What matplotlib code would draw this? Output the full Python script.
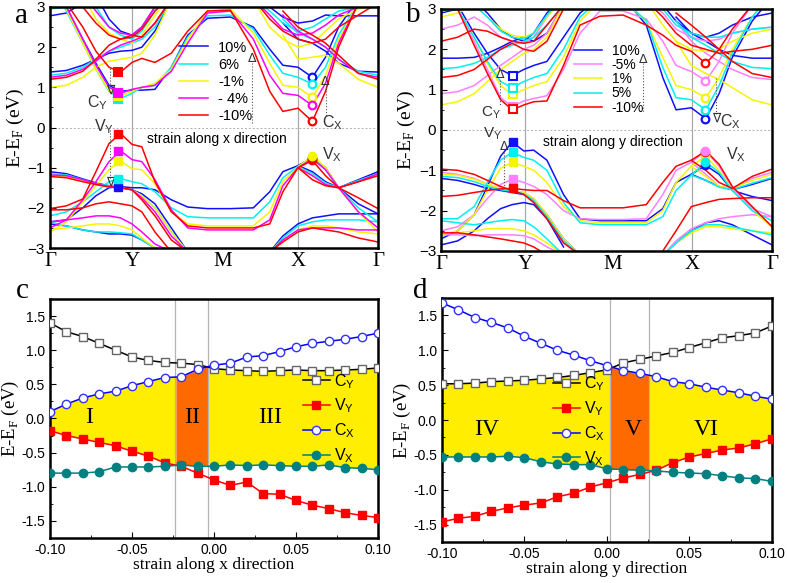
import numpy as np
import matplotlib
matplotlib.use('Agg')
import matplotlib.pyplot as plt
from matplotlib.ticker import MultipleLocator, FormatStrFormatter

SERIF = 'Liberation Serif'
SANS = 'Liberation Sans'
plt.rcParams['font.family'] = SANS
plt.rcParams['mathtext.fontset'] = 'custom'
plt.rcParams['mathtext.rm'] = SANS

# ---------------- band structure data (panels a, b) ----------------
# k positions along the path, normalised 0..1 (Gamma-Y-M-X-Gamma)
K = [0.00, 0.05, 0.10, 0.14, 0.18, 0.215, 0.25, 0.28, 0.32, 0.37, 0.42,
     0.48, 0.55, 0.62, 0.67, 0.71, 0.756, 0.80, 0.84, 0.88, 0.94, 1.00]
kpath_labels = ['Γ', 'Y', 'M', 'X', 'Γ']
kticks_a = [0.0, 0.25, 0.527, 0.756, 1.0]
kticks_b = [0.0, 0.254, 0.52, 0.758, 1.0]

strain_a = ['10%', '6%', '-1%', '- 4%', '-10%']
colors_a = ['#1010ff', '#00f0f0', '#f5f500', '#ff00ff', '#ff0000']
strain_b = ['10%', '-5%', '1%', '5%', '-10%']
colors_b = ['#1010ff', '#ff80ff', '#f5f500', '#00f0f0', '#ff0000']

# panel a, full-path bands (one row per strain)
a_vb1 = [[-2.35, -2.3, -2.0, -1.7, -1.5, -1.47, -1.5, -1.5, -1.55, -1.8, -1.98, -2.02, -2.02, -2.0, -1.6, -1.1, -0.95, -0.75, -1.0, -1.5, -1.9, -2.15],
         [-2.2, -2.1, -1.85, -1.6, -1.35, -1.27, -1.35, -1.4, -1.6, -2.0, -2.22, -2.25, -2.25, -2.25, -1.85, -1.25, -0.97, -0.75, -1.05, -1.5, -2.0, -2.35],
         [-2.6, -2.35, -1.85, -1.45, -1.05, -0.83, -1.03, -1.05, -1.4, -2.1, -2.4, -2.45, -2.45, -2.45, -2.1, -1.35, -0.98, -0.7, -1.0, -1.5, -2.1, -2.6],
         [-2.5, -2.3, -1.8, -1.35, -0.85, -0.58, -0.8, -0.85, -1.3, -2.05, -2.5, -2.55, -2.55, -2.55, -2.3, -1.45, -1.0, -0.78, -1.05, -1.5, -2.1, -2.5],
         [-2.02, -1.95, -1.78, -1.1, -0.4, -0.15, -0.42, -0.48, -1.35, -2.1, -2.45, -2.5, -2.5, -2.5, -2.4, -1.6, -1.0, -0.82, -1.2, -1.5, -1.75, -2.02]]
a_cb1 = [[3.6, 3.0, 2.2, 1.6, 1.05, 0.9, 0.93, 0.93, 0.95, 1.5, 2.3, 2.72, 2.75, 2.5, 1.95, 1.55, 1.5, 1.25, 1.75, 2.5, 3.2, 3.6],
         [3.6, 2.9, 2.1, 1.45, 0.9, 0.72, 0.85, 1.0, 1.05, 1.5, 2.25, 2.78, 2.8, 2.45, 1.8, 1.35, 1.25, 1.08, 1.5, 2.3, 3.1, 3.6],
         [3.6, 2.95, 2.1, 1.45, 0.92, 0.78, 0.9, 1.0, 1.1, 1.45, 2.2, 2.9, 2.95, 2.35, 1.6, 1.05, 1.0, 0.75, 1.3, 2.2, 3.1, 3.6],
         [3.6, 3.0, 2.2, 1.55, 1.0, 0.85, 0.95, 1.0, 1.05, 1.4, 2.1, 2.85, 2.9, 2.2, 1.3, 0.85, 0.8, 0.55, 1.1, 2.1, 3.1, 3.6],
         [3.6, 3.1, 2.5, 1.9, 1.5, 1.38, 1.62, 1.72, 1.62, 1.85, 2.4, 2.9, 2.92, 1.95, 0.9, 0.4, 0.48, 0.15, 0.9, 2.0, 3.1, 3.6]]
# panel a, bands starting at left Gamma
a_vb2 = [[-1.1, -1.15, -1.28, -1.38, -1.45, -1.5, -1.55, -1.65, -1.9, -2.5, -3.1],
         [-1.15, -1.18, -1.3, -1.4, -1.45, -1.5, -1.55, -1.7, -2.0, -2.6, -3.1],
         [-1.2, -1.22, -1.32, -1.42, -1.48, -1.5, -1.55, -1.7, -2.0, -2.6, -3.1],
         [-1.18, -1.2, -1.3, -1.4, -1.47, -1.5, -1.55, -1.75, -2.1, -2.7, -3.1],
         [-1.22, -1.25, -1.35, -1.42, -1.48, -1.5, -1.55, -1.8, -2.2, -2.8, -3.1]]
a_vb4 = [[-2.4, -2.45, -2.55, -2.6, -2.65, -2.65, -2.68, -2.8, -3.0, -3.2],
         [-2.35, -2.45, -2.55, -2.6, -2.6, -2.62, -2.65, -2.8, -3.0, -3.2],
         [-2.55, -2.5, -2.45, -2.4, -2.4, -2.45, -2.55, -2.75, -3.0, -3.2],
         [-2.35, -2.3, -2.25, -2.2, -2.2, -2.25, -2.4, -2.6, -2.9, -3.1],
         [-2.05, -2.05, -2.0, -1.9, -1.85, -1.9, -1.95, -2.1, -2.6, -3.1]]
a_cb2 = [[1.38, 1.42, 1.55, 1.7, 1.85, 1.9, 1.92, 2.0, 2.4, 3.2],
         [1.3, 1.35, 1.5, 1.7, 1.9, 2.0, 2.1, 2.2, 2.5, 3.2],
         [1.0, 1.05, 1.25, 1.5, 1.65, 1.7, 1.75, 1.85, 2.3, 3.2],
         [1.25, 1.3, 1.45, 1.65, 1.9, 2.05, 2.15, 2.25, 2.6, 3.2],
         [1.2, 1.25, 1.4, 1.7, 2.05, 2.2, 2.3, 2.25, 2.6, 3.2]]
a_cb4 = [[2.78, 2.85, 3.1, 3.3, 2.7, 2.4, 2.3, 2.5, 3.0, 3.3],
         [2.95, 3.0, 3.2, 3.0, 2.5, 2.3, 2.2, 2.4, 2.9, 3.3],
         [3.05, 3.2, 3.3, 2.7, 2.35, 2.2, 2.1, 2.3, 2.8, 3.3],
         [3.1, 3.2, 3.3, 2.9, 2.5, 2.35, 2.3, 2.5, 3.0, 3.3],
         [3.2, 3.3, 3.0, 2.6, 2.3, 2.2, 2.25, 2.45, 2.9, 3.3]]
# panel a, bands ending at right Gamma
a_vb3 = [[-0.95, -1.1, -1.35, -1.5, -1.3, -1.1],
         [-0.97, -1.15, -1.38, -1.5, -1.32, -1.15],
         [-0.98, -1.2, -1.42, -1.5, -1.35, -1.18],
         [-1.0, -1.2, -1.42, -1.5, -1.35, -1.15],
         [-1.0, -1.3, -1.45, -1.5, -1.35, -1.2]]
a_vb5 = [[-3.1, -2.7, -2.4, -2.25, -2.2, -2.15, -2.15, -2.15],
         [-3.1, -2.75, -2.45, -2.35, -2.3, -2.3, -2.3, -2.35],
         [-3.1, -2.8, -2.55, -2.45, -2.45, -2.5, -2.6, -2.65],
         [-3.1, -2.8, -2.55, -2.5, -2.5, -2.5, -2.55, -2.55],
         [-3.1, -2.85, -2.6, -2.5, -2.55, -2.6, -2.75, -2.85]]
a_cb3 = [[2.6, 2.2, 2.1, 1.9, 1.6, 1.4, 1.38],
         [2.7, 2.35, 2.2, 2.0, 1.7, 1.4, 1.3],
         [2.3, 1.7, 1.75, 1.8, 1.6, 1.2, 1.0],
         [2.8, 2.4, 2.2, 2.0, 1.7, 1.35, 1.25],
         [2.9, 2.5, 2.3, 2.1, 1.8, 1.35, 1.2]]
a_cb5 = [[3.2, 3.0, 2.75, 2.6, 2.65, 2.8, 2.78, 2.78, 2.78],
         [3.2, 2.9, 2.6, 2.4, 2.5, 2.7, 2.9, 3.0, 3.05],
         [3.2, 2.5, 2.2, 2.0, 2.1, 2.4, 2.7, 2.95, 3.05],
         [3.2, 2.8, 2.45, 2.3, 2.35, 2.55, 2.8, 3.0, 3.1],
         [3.2, 2.7, 2.4, 2.2, 2.1, 2.2, 2.5, 2.8, 3.1]]

# panel b
b_vb1 = [[-2.7, -2.5, -2.1, -1.4, -0.65, -0.3, -0.52, -0.5, -0.75, -1.6, -2.2, -2.25, -2.25, -2.25, -1.95, -1.3, -1.1, -0.88, -1.1, -1.5, -1.65, -1.75],
         [-2.5, -2.4, -2.1, -1.7, -1.35, -1.22, -1.3, -1.4, -1.6, -2.0, -2.2, -2.22, -2.22, -2.2, -1.6, -1.0, -0.8, -0.52, -0.9, -1.45, -1.95, -2.15],
         [-2.6, -2.5, -2.1, -1.5, -0.95, -0.8, -0.9, -1.0, -1.3, -1.9, -2.25, -2.3, -2.3, -2.3, -2.0, -1.3, -0.9, -0.65, -1.0, -1.5, -2.0, -2.4],
         [-2.2, -2.2, -1.9, -1.3, -0.75, -0.55, -0.68, -0.75, -1.0, -1.8, -2.3, -2.35, -2.35, -2.35, -2.15, -1.5, -1.12, -0.8, -1.05, -1.5, -2.0, -2.25],
         [-1.65, -1.62, -1.55, -1.5, -1.46, -1.45, -1.48, -1.5, -1.5, -1.75, -1.93, -1.93, -1.93, -1.85, -1.3, -0.9, -0.75, -0.52, -0.85, -1.4, -1.9, -2.4]]
b_cb1 = [[3.6, 3.1, 2.4, 1.9, 1.5, 1.35, 1.5, 1.6, 1.7, 2.3, 2.9, 3.3, 3.3, 2.6, 1.3, 0.5, 0.55, 0.28, 0.9, 1.8, 2.7, 3.3],
         [3.6, 3.0, 2.2, 1.5, 0.8, 0.58, 0.72, 0.78, 0.85, 1.5, 2.4, 2.95, 2.95, 2.75, 2.2, 1.6, 1.45, 1.22, 1.7, 2.4, 3.1, 3.5],
         [3.6, 3.0, 2.3, 1.65, 1.1, 0.88, 1.0, 1.1, 1.2, 1.8, 2.7, 3.2, 3.2, 2.7, 1.8, 1.1, 1.0, 0.8, 1.3, 2.0, 2.8, 3.4],
         [3.6, 3.0, 2.3, 1.7, 1.2, 1.05, 1.2, 1.3, 1.4, 2.0, 2.8, 3.25, 3.25, 2.7, 1.55, 0.8, 0.75, 0.5, 1.1, 1.9, 2.8, 3.4],
         [3.6, 3.0, 2.1, 1.4, 0.75, 0.5, 0.62, 0.7, 0.72, 1.6, 2.6, 2.82, 2.85, 2.6, 2.35, 2.1, 1.95, 1.65, 2.0, 2.5, 3.1, 3.5]]
b_vb2 = [[-1.2, -1.25, -1.35, -1.45, -1.5, -1.55, -1.6, -1.75, -2.1, -2.7, -3.1],
         [-1.05, -1.1, -1.2, -1.35, -1.45, -1.5, -1.55, -1.7, -2.1, -2.7, -3.1],
         [-1.1, -1.12, -1.22, -1.35, -1.45, -1.5, -1.55, -1.7, -2.1, -2.7, -3.1],
         [-1.15, -1.18, -1.28, -1.4, -1.48, -1.52, -1.58, -1.75, -2.15, -2.75, -3.1],
         [-0.97, -1.0, -1.1, -1.25, -1.4, -1.5, -1.6, -1.8, -2.2, -2.8, -3.1]]
b_vb4 = [[-2.85, -2.75, -2.5, -2.2, -1.95, -1.85, -1.8, -1.85, -2.2, -2.9],
         [-2.6, -2.6, -2.62, -2.6, -2.6, -2.6, -2.62, -2.7, -2.9, -3.1],
         [-2.55, -2.55, -2.5, -2.45, -2.45, -2.45, -2.5, -2.6, -2.8, -3.1],
         [-2.25, -2.3, -2.35, -2.3, -2.25, -2.22, -2.25, -2.4, -2.7, -3.1],
         [-2.55, -2.55, -2.6, -2.65, -2.7, -2.75, -2.8, -2.9, -3.1, -3.2]]
b_cb2 = [[1.78, 1.78, 1.8, 1.9, 2.05, 2.2, 2.3, 2.2, 2.4, 3.1],
         [0.9, 0.95, 1.1, 1.35, 1.6, 1.8, 2.0, 2.1, 2.4, 3.1],
         [0.62, 0.7, 0.9, 1.2, 1.5, 1.7, 1.9, 2.0, 2.3, 3.1],
         [1.52, 1.55, 1.65, 1.8, 2.0, 2.1, 2.2, 2.3, 2.6, 3.1],
         [1.3, 1.35, 1.5, 1.75, 2.0, 2.15, 2.0, 1.95, 2.2, 3.0]]
b_cb4 = [[2.9, 3.0, 3.2, 2.9, 2.5, 2.3, 2.2, 2.4, 2.9, 3.3],
         [2.5, 2.6, 2.8, 2.6, 2.3, 2.2, 2.15, 2.3, 2.8, 3.3],
         [2.8, 2.9, 3.1, 2.8, 2.5, 2.35, 2.3, 2.4, 2.8, 3.3],
         [2.95, 3.0, 3.1, 2.8, 2.45, 2.3, 2.25, 2.4, 2.85, 3.3],
         [2.2, 2.3, 2.5, 2.45, 2.3, 2.2, 2.15, 2.2, 2.6, 3.1]]
b_vb3 = [[-1.1, -1.25, -1.4, -1.48, -1.35, -1.2],
         [-0.8, -1.1, -1.4, -1.45, -1.2, -1.05],
         [-0.9, -1.15, -1.4, -1.45, -1.25, -1.1],
         [-1.12, -1.25, -1.42, -1.48, -1.32, -1.18],
         [-0.75, -1.0, -1.3, -1.45, -1.15, -0.97]]
b_vb5 = [[-3.1, -2.8, -2.5, -2.3, -2.25, -2.35, -2.6, -2.85],
         [-3.1, -2.75, -2.45, -2.3, -2.2, -2.15, -2.1, -2.15],
         [-3.1, -2.8, -2.55, -2.4, -2.4, -2.45, -2.5, -2.55],
         [-3.1, -2.8, -2.5, -2.35, -2.35, -2.4, -2.5, -2.6],
         [-3.0, -2.5, -1.9, -1.8, -1.72, -1.7, -1.68, -1.68]]
b_cb3 = [[2.8, 2.4, 2.2, 2.0, 1.85, 1.78, 1.78],
         [2.7, 2.2, 1.9, 1.7, 1.5, 1.3, 1.25],
         [2.2, 1.6, 1.4, 1.25, 1.05, 0.75, 0.62],
         [2.7, 2.3, 2.1, 1.9, 1.7, 1.55, 1.52],
         [2.9, 2.6, 2.3, 2.0, 1.7, 1.4, 1.3]]
b_cb5 = [[3.2, 3.1, 2.7, 2.4, 2.3, 2.4, 2.6, 2.8, 2.9],
         [3.2, 2.9, 2.5, 2.3, 2.2, 2.25, 2.4, 2.5, 2.55],
         [3.2, 2.6, 2.2, 2.0, 1.95, 2.0, 2.2, 2.4, 2.5],
         [3.2, 3.0, 2.6, 2.4, 2.3, 2.3, 2.4, 2.5, 2.55],
         [3.2, 2.8, 2.4, 2.1, 2.0, 1.9, 1.95, 2.0, 2.1]]

# band-edge markers (one value per strain, same order as colours)
a_k_y, a_k_x = 0.208, 0.798
a_VY = [-1.47, -1.27, -0.83, -0.58, -0.15]
a_CY = [0.75, 0.72, 0.78, 0.85, 1.38]
a_CX = [1.25, 1.08, 0.75, 0.55, 0.15]
a_VX = [-0.75, -0.75, -0.7, -0.78, -0.82]
b_k_y, b_k_x = 0.218, 0.797
b_VY = [-0.3, -1.22, -0.8, -0.55, -1.45]
b_CY = [1.35, 0.58, 0.88, 1.05, 0.52]
b_CX = [0.28, 1.22, 0.8, 0.5, 1.67]
b_VX = [-0.88, -0.52, -0.65, -0.8, -0.55]
a_top_marker = 2   # yellow V_X dot drawn on top
b_top_marker = 1   # pink V_X dot drawn on top

# ---------------- band edges vs strain (panels c, d) ----------------
strain = [-0.10, -0.09, -0.08, -0.07, -0.06, -0.05, -0.04, -0.03, -0.02, -0.01, 0.00,
          0.01, 0.02, 0.03, 0.04, 0.05, 0.06, 0.07, 0.08, 0.09, 0.10]
c_CY = [1.40, 1.27, 1.20, 1.10, 1.00, 0.90, 0.85, 0.82, 0.81, 0.79, 0.73,
        0.71, 0.70, 0.69, 0.70, 0.71, 0.70, 0.70, 0.71, 0.72, 0.74]
c_VY = [-0.18, -0.25, -0.30, -0.35, -0.40, -0.48, -0.55, -0.65, -0.70, -0.80, -0.90,
        -0.98, -0.93, -1.10, -1.11, -1.20, -1.27, -1.32, -1.38, -1.42, -1.45]
c_CX = [0.10, 0.21, 0.30, 0.36, 0.40, 0.48, 0.54, 0.60, 0.61, 0.72, 0.78,
        0.81, 0.90, 0.92, 0.98, 1.05, 1.10, 1.13, 1.16, 1.20, 1.25]
c_VX = [-0.80, -0.80, -0.80, -0.78, -0.71, -0.71, -0.71, -0.70, -0.68, -0.70, -0.70,
        -0.68, -0.69, -0.68, -0.69, -0.70, -0.70, -0.68, -0.72, -0.73, -0.75]
c_bounds = [-0.10, -0.0235, -0.0034, 0.10]
c_regions = ['I', 'II', 'III']
c_region_x = [-0.076, -0.0135, 0.034]

d_CY = [0.52, 0.52, 0.53, 0.55, 0.56, 0.57, 0.59, 0.61, 0.64, 0.68, 0.72,
        0.82, 0.87, 0.92, 0.97, 1.04, 1.11, 1.18, 1.21, 1.25, 1.35]
d_VY = [-1.46, -1.41, -1.38, -1.31, -1.26, -1.22, -1.19, -1.10, -1.05, -0.96, -0.90,
        -0.83, -0.78, -0.72, -0.61, -0.53, -0.48, -0.43, -0.40, -0.34, -0.27]
d_CX = [1.68, 1.58, 1.47, 1.40, 1.32, 1.20, 1.10, 1.00, 0.93, 0.85, 0.78,
        0.71, 0.67, 0.62, 0.55, 0.52, 0.47, 0.43, 0.39, 0.34, 0.30]
d_VX = [-0.53, -0.53, -0.53, -0.53, -0.52, -0.54, -0.60, -0.63, -0.64, -0.64, -0.70,
        -0.71, -0.72, -0.73, -0.75, -0.76, -0.77, -0.80, -0.83, -0.84, -0.88]
d_bounds = [-0.10, 0.002, 0.0253, 0.10]
d_regions = ['IV', 'V', 'VI']
d_region_x = [-0.073, 0.016, 0.060]

# ---------------- figure ----------------
fig = plt.figure(figsize=(7.87, 5.83), dpi=100)
ax_a = fig.add_axes([0.0635, 0.5746, 0.4168, 0.4134])
ax_b = fig.add_axes([0.5604, 0.5695, 0.4206, 0.4151])
ax_c = fig.add_axes([0.0635, 0.0772, 0.4168, 0.4100])
ax_d = fig.add_axes([0.5616, 0.0703, 0.4193, 0.4185])

SYM = ['DejaVu Sans']


def style_band_axes(ax, kticks):
    ax.set_xlim(0, 1)
    ax.set_ylim(-3, 3)
    ax.set_xticks(kticks)
    ax.set_xticklabels(kpath_labels, fontfamily=SERIF, fontsize=15)
    ax.tick_params(axis='x', length=0, pad=3)
    ax.yaxis.set_major_locator(MultipleLocator(1))
    ax.yaxis.set_minor_locator(MultipleLocator(0.5))
    ax.tick_params(axis='y', which='both', direction='in', labelsize=11, length=4)
    ax.tick_params(axis='y', which='minor', length=2.5)
    for s in ax.spines.values():
        s.set_linewidth(1.8)
    for kk in kticks[1:4:2]:
        ax.axvline(kk, color='#a8a8a8', lw=0.9, zorder=0)
    ax.axhline(0, color='#b0b0b0', lw=0.7, ls=(0, (2, 2)), zorder=0)
    ax.set_ylabel('E-E$_\\mathregular{F}$ (eV)', fontfamily=SERIF, fontsize=14, labelpad=1)


def draw_bands(ax, colors, labels, full, left, right):
    for i, c in enumerate(colors):
        for band in full:
            ax.plot(K, band[i], color=c, lw=1.1,
                    label=labels[i] if band is full[0] else None)
        for band in left:
            ax.plot(K[:len(band[i])], band[i], color=c, lw=1.1)
        for band in right:
            ax.plot(K[-len(band[i]):], band[i], color=c, lw=1.1)


def draw_edges(ax, colors, ky, kx, vy, cy, cx, vx, cy_open, top):
    for i, c in enumerate(colors):
        z = 6 if i == top else 5
        ax.plot(ky, vy[i], 's', color=c, ms=5.5, zorder=5)
        ax.plot(ky, cy[i], 's', color=c, ms=5.5, zorder=5,
                mfc='white' if cy_open else c, mew=1.5)
        ax.plot(kx, cx[i], 'o', color=c, ms=5.5, mfc='white', mew=1.6, zorder=5)
        ax.plot(kx, vx[i], 'o', color=c, ms=6, zorder=z)


def annotate(ax, txt, k, e, size=11.5, family=None):
    ax.text(k, e, txt, ha='center', va='center', fontsize=size, color='#333333',
            family=family)


def dotted(ax, k, e0, e1):
    ax.plot([k, k], [e0, e1], ':', color='#555555', lw=0.8)


# panel a
style_band_axes(ax_a, kticks_a)
draw_bands(ax_a, colors_a, strain_a, [a_vb1, a_cb1],
           [a_vb2, a_vb4, a_cb2, a_cb4], [a_vb3, a_vb5, a_cb3, a_cb5])
draw_edges(ax_a, colors_a, a_k_y, a_k_x, a_VY, a_CY, a_CX, a_VX, False, a_top_marker)
ax_a.legend(loc='upper left', bbox_to_anchor=(0.375, 0.885), frameon=False,
            handlelength=2.0, fontsize=10.5, labelspacing=0.22,
            handletextpad=0.7, borderaxespad=0)
ax_a.text(0.51, -0.28, 'strain along x direction', ha='center', va='center', fontsize=10)
annotate(ax_a, 'C$_\\mathregular{Y}$', 0.145, 0.62)
annotate(ax_a, 'V$_\\mathregular{Y}$', 0.165, 0.02)
annotate(ax_a, 'C$_\\mathregular{X}$', 0.86, 0.12)
annotate(ax_a, 'V$_\\mathregular{X}$', 0.86, -0.68)
annotate(ax_a, '∇', 0.183, 0.92, 9, SYM)
annotate(ax_a, '∇', 0.183, -1.36, 9, SYM)
annotate(ax_a, 'Δ', 0.615, 1.72, 9, SYM)
annotate(ax_a, 'Δ', 0.84, 1.15, 9, SYM)
dotted(ax_a, 0.183, 1.0, 1.5)
dotted(ax_a, 0.183, -0.05, -1.3)
dotted(ax_a, 0.615, 1.6, 0.1)
dotted(ax_a, 0.84, 1.05, 0.25)

# panel b
style_band_axes(ax_b, kticks_b)
draw_bands(ax_b, colors_b, strain_b, [b_vb1, b_cb1],
           [b_vb2, b_vb4, b_cb2, b_cb4], [b_vb3, b_vb5, b_cb3, b_cb5])
draw_edges(ax_b, colors_b, b_k_y, b_k_x, b_VY, b_CY, b_CX, b_VX, True, b_top_marker)
ax_b.legend(loc='upper left', bbox_to_anchor=(0.385, 0.88), frameon=False,
            handlelength=2.0, fontsize=10, labelspacing=0.02,
            handletextpad=0.7, borderaxespad=0)
ax_b.text(0.52, -0.3, 'strain along y direction', ha='center', va='center', fontsize=10)
annotate(ax_b, 'C$_\\mathregular{Y}$', 0.15, 0.44, 11)
annotate(ax_b, 'V$_\\mathregular{Y}$', 0.155, -0.08, 11)
annotate(ax_b, 'C$_\\mathregular{X}$', 0.875, 0.2)
annotate(ax_b, 'V$_\\mathregular{X}$', 0.89, -0.6)
annotate(ax_b, 'Δ', 0.178, 1.38, 9, SYM)
annotate(ax_b, 'Δ', 0.19, -0.42, 9, SYM)
annotate(ax_b, 'Δ', 0.61, 1.75, 9, SYM)
annotate(ax_b, '∇', 0.83, 0.3, 9, SYM)
dotted(ax_b, 0.178, 1.25, 0.62)
dotted(ax_b, 0.19, -0.54, -1.42)
dotted(ax_b, 0.61, 1.65, 0.42)
dotted(ax_b, 0.83, 1.3, 0.4)


# panels c, d
def style_strain_axes(ax, xlabel):
    ax.set_xlim(-0.10, 0.10)
    ax.set_ylim(-1.75, 1.75)
    ax.xaxis.set_major_locator(MultipleLocator(0.05))
    ax.xaxis.set_minor_locator(MultipleLocator(0.025))
    ax.yaxis.set_major_locator(MultipleLocator(0.5))
    ax.yaxis.set_minor_locator(MultipleLocator(0.25))
    ax.xaxis.set_major_formatter(FormatStrFormatter('%.2f'))
    ax.yaxis.set_major_formatter(FormatStrFormatter('%.1f'))
    ax.tick_params(which='both', direction='in', labelsize=10)
    ax.tick_params(which='major', length=4)
    ax.tick_params(which='minor', length=2.5)
    for s in ax.spines.values():
        s.set_linewidth(1.8)
    ax.set_xlabel(xlabel, fontfamily=SERIF, fontsize=12.5, labelpad=0)
    ax.set_ylabel('E-E$_\\mathregular{F}$ (eV)', fontfamily=SERIF, fontsize=13.5, labelpad=0)


def draw_strain(ax, cy, vy, cx, vx, bounds, regions, region_x, region_y, leg_anchor):
    xs = np.linspace(bounds[0], bounds[-1], 801)
    top = np.minimum(np.interp(xs, strain, cy), np.interp(xs, strain, cx))
    bot = np.maximum(np.interp(xs, strain, vy), np.interp(xs, strain, vx))
    fills = ['#ffee00', '#ff6a00', '#ffee00']
    for j in range(3):
        m = (xs >= bounds[j]) & (xs <= bounds[j + 1])
        ax.fill_between(xs[m], bot[m], top[m], color=fills[j], lw=0, zorder=1)
        ax.text(region_x[j], region_y, regions[j],
                fontfamily=SERIF, fontsize=17, ha='center', va='center', zorder=6)
    for b in bounds[1:3]:
        ax.axvline(b, color='#b4b4b4', lw=0.9, zorder=2)
    ax.plot(strain, cy, '-s', color='black', mfc='white', mec='#666666', ms=5.5, lw=1.1,
            label='C$_\\mathregular{Y}$', zorder=4)
    ax.plot(strain, vy, '-s', color='#ff0000', ms=5.5, lw=1.1,
            label='V$_\\mathregular{Y}$', zorder=4)
    ax.plot(strain, cx, '-o', color='#0000ff', mfc='white', mec='#3333ff', ms=6, lw=1.1,
            label='C$_\\mathregular{X}$', zorder=4)
    ax.plot(strain, vx, '-o', color='#008080', ms=6, lw=1.1,
            label='V$_\\mathregular{X}$', zorder=4)
    ax.legend(loc='center left', bbox_to_anchor=leg_anchor, frameon=False,
              fontsize=11.5, handlelength=1.7, labelspacing=0.38, handletextpad=0.3,
              borderaxespad=0, borderpad=0)


style_strain_axes(ax_c, 'strain along x direction')
draw_strain(ax_c, c_CY, c_VY, c_CX, c_VX, c_bounds, c_regions, c_region_x, 0.02, (0.77, 0.5))
style_strain_axes(ax_d, 'strain along y direction')
draw_strain(ax_d, d_CY, d_VY, d_CX, d_VX, d_bounds, d_regions, d_region_x, -0.14, (0.335, 0.495))

for lbl, x, y in [('a', 0.027, 0.972), ('b', 0.525, 0.975), ('c', 0.028, 0.5), ('d', 0.534, 0.5)]:
    fig.text(x, y, lbl, fontfamily=SERIF, fontsize=21, ha='center', va='center')

fig.savefig('out.png', dpi=100)
